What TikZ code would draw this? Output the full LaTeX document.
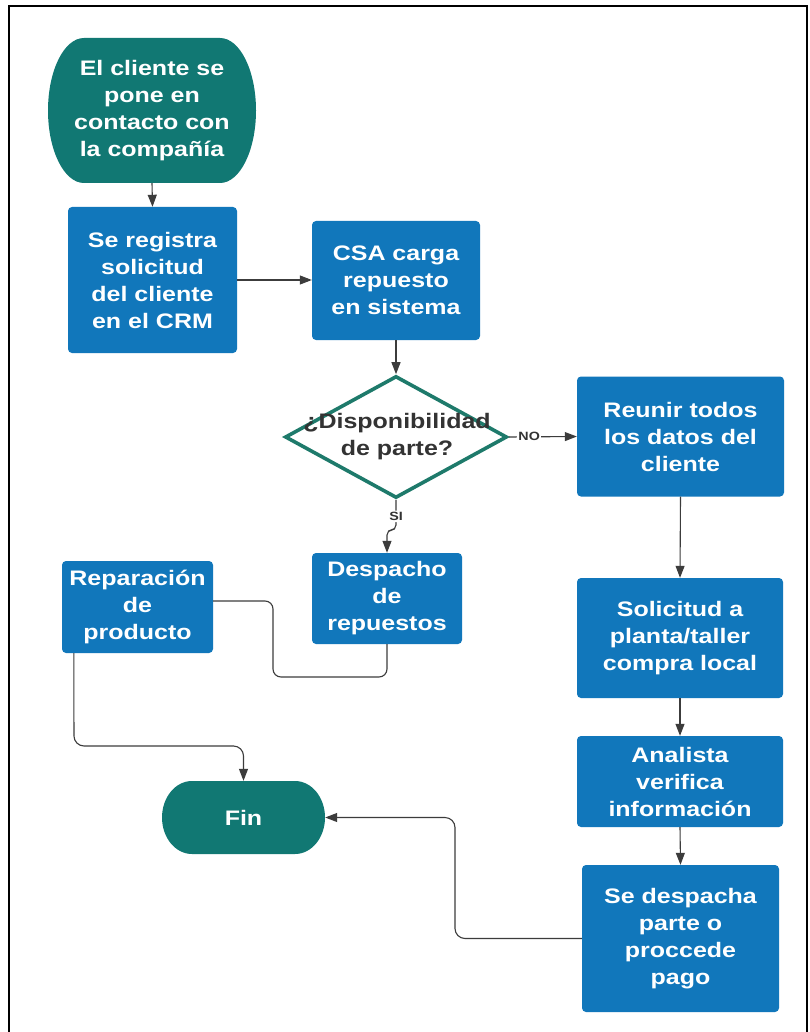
\documentclass[tikz,border=0pt]{standalone}
\usepackage{fontspec}
\newfontfamily\boxfont{Liberation Sans}[FakeStretch=1.19]
\usetikzlibrary{arrows.meta,shapes.geometric}
\definecolor{boxblue}{HTML}{1177BB}
\definecolor{termteal}{HTML}{117873}
\definecolor{dteal}{HTML}{1E7A6B}
\definecolor{linegray}{HTML}{3C3C3C}
\definecolor{txtgray}{HTML}{333333}

\begin{document}
\begin{tikzpicture}[x=1pt,y=1pt,
  boxtext/.style={align=center, inner sep=0pt,
    font=\boxfont\bfseries\fontsize{21}{27}\selectfont},
  procbox/.style={boxtext, fill=boxblue, rounded corners=4pt, text=white},
  termtext/.style={boxtext, text=white},
  decision/.style={diamond, draw=dteal, line width=3.6pt, fill=white,
    inner sep=0pt, minimum width=222pt, minimum height=122pt},
  flow/.style={draw=linegray, line width=1.1pt,
    -{Triangle[length=12pt,width=9pt]}},
  plainflow/.style={draw=linegray, line width=1.1pt},
  branch/.style={font=\boxfont\bfseries\fontsize{12}{14}\selectfont,
    text=txtgray, fill=white, inner sep=1.5pt}]

\useasboundingbox (0,0) rectangle (810,-1032);
\fill[white] (0,0) rectangle (810,-1032);

% outer frame (open at the bottom)
\draw[line width=2pt, black] (9,-1040) -- (9,-6) -- (807,-6) -- (807,-1040);

% terminal shapes: flat top and bottom, elliptical sides
\fill[termteal] (84,-38) -- (220,-38)
  arc[start angle=90, end angle=-90, x radius=36pt, y radius=72.5pt]
  -- (84,-183)
  arc[start angle=270, end angle=90, x radius=36pt, y radius=72.5pt] -- cycle;
\fill[termteal] (192,-781) -- (295,-781)
  arc[start angle=90, end angle=-90, x radius=30pt, y radius=36.5pt]
  -- (192,-854)
  arc[start angle=270, end angle=90, x radius=30pt, y radius=36.5pt] -- cycle;

% nodes
\node[termtext, minimum width=208pt, minimum height=145pt] (start) at (152,-110.5)
  {El cliente se\\pone en\\contacto con\\la compañía};
\node[termtext, minimum width=163pt, minimum height=73pt] (fin) at (243.5,-817.5) {Fin};

\node[procbox, minimum width=169pt, minimum height=146pt] (box1) at (152.5,-280)
  {Se registra\\solicitud\\del cliente\\en el CRM};
\node[procbox, minimum width=168pt, minimum height=119pt] (box2) at (396,-280.5)
  {CSA carga\\repuesto\\en sistema};
\node[decision] (dia) at (396,-437) {};
\node[boxtext, text=txtgray] (diatext) at (397,-437) {¿Disponibilidad\\de parte?};
\node[procbox, minimum width=207pt, minimum height=120pt] (reunir) at (680.5,-436.5)
  {Reunir todos\\los datos del\\cliente};
\node[procbox, minimum width=206pt, minimum height=120pt] (solic) at (680,-638)
  {Solicitud a\\planta/taller\\compra local};
\node[procbox, minimum width=206pt, minimum height=91pt] (anal) at (680,-781.5)
  {Analista\\verifica\\información};
\node[procbox, minimum width=197pt, minimum height=147pt] (desp2) at (680.5,-938.5)
  {Se despacha\\parte o\\proccede\\pago};
\node[procbox, minimum width=150pt, minimum height=91pt] (desp) at (387,-598.5)
  {Despacho\\de\\repuestos};
\node[procbox, minimum width=151pt, minimum height=92pt] (repar) at (137.5,-607)
  {Reparación\\de\\producto};

% connectors
\draw[flow] (start.south) -- (box1.north);
\draw[flow] (box1.east) -- (box1.east -| box2.west);
\draw[flow] (box2.south) -- (dia.north);
\draw[flow] (dia.east) -- node[branch, pos=0.3] {NO} (reunir.west);
\draw[flow, rounded corners=5pt] (dia.south) -- node[branch, pos=0.55] {SI} (396,-530)
  -- (387,-530) -- (desp.north);
\draw[flow] (reunir.south) -- (solic.north);
\draw[flow] (solic.south) -- (anal.north);
\draw[flow] (anal.south) -- (desp2.north);
\draw[flow, rounded corners=10pt] (desp2.west) -- (455,-938.5) -- (455,-817.5) -- (fin.east);
\draw[plainflow, rounded corners=8pt] ([yshift=6pt]repar.east) -- (273,-601)
  -- (273,-677) -- (387,-677) -- (desp.south);
\draw[flow, rounded corners=10pt] ([xshift=12pt]repar.south west) -- (74,-746)
  -- (243.5,-746) -- (fin.north);
\end{tikzpicture}
\end{document}
